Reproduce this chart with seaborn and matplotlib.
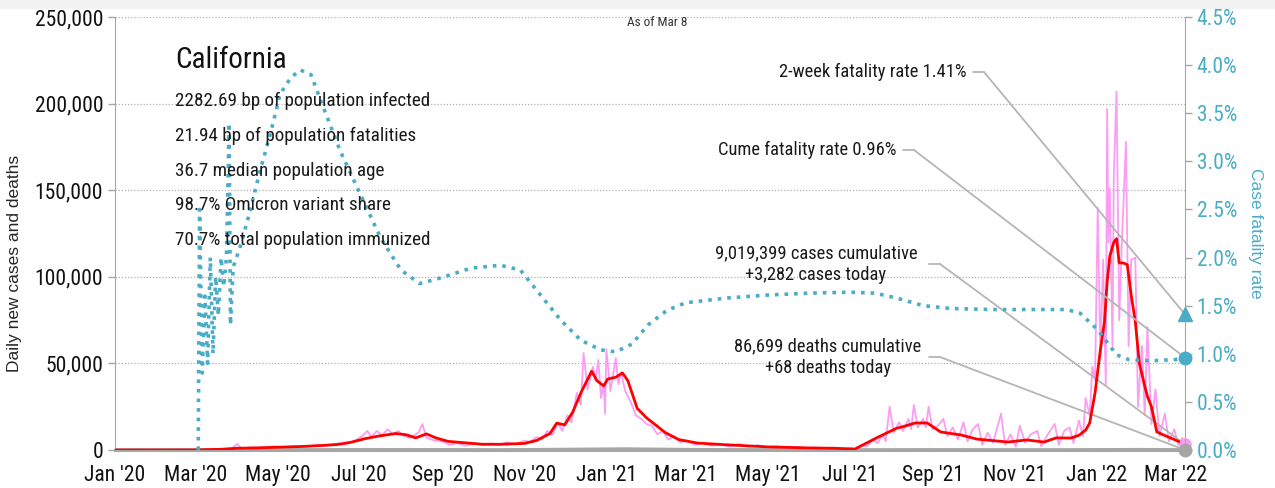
import matplotlib
matplotlib.use("Agg")
import matplotlib.pyplot as plt
import matplotlib.dates as mdates
from matplotlib import font_manager
from matplotlib.lines import Line2D
from matplotlib.patches import Rectangle
from matplotlib.ticker import FuncFormatter, MultipleLocator
import seaborn as sns
import pandas as pd

# 7-day average of new cases (thousands)
avg_dates = ["2020-01-01", "2020-03-01", "2020-03-20", "2020-04-01", "2020-04-15", "2020-05-01",
             "2020-05-15", "2020-06-01", "2020-06-15", "2020-06-25", "2020-07-05", "2020-07-15",
             "2020-07-28", "2020-08-05", "2020-08-12", "2020-08-20", "2020-08-27", "2020-09-05",
             "2020-09-20", "2020-10-01", "2020-10-15", "2020-11-01", "2020-11-10", "2020-11-20",
             "2020-11-25", "2020-12-01", "2020-12-07", "2020-12-13", "2020-12-21", "2020-12-25",
             "2020-12-30", "2021-01-02", "2021-01-08", "2021-01-13", "2021-01-17", "2021-01-24",
             "2021-01-31", "2021-02-14", "2021-02-24", "2021-03-10", "2021-04-01", "2021-05-01",
             "2021-06-01", "2021-06-20", "2021-07-05", "2021-07-21", "2021-08-05", "2021-08-10",
             "2021-08-19", "2021-08-28", "2021-09-07", "2021-09-22", "2021-10-04", "2021-10-27",
             "2021-11-10", "2021-11-23", "2021-12-02", "2021-12-13", "2021-12-19", "2021-12-24",
             "2021-12-27", "2021-12-31", "2022-01-04", "2022-01-07", "2022-01-09", "2022-01-11",
             "2022-01-14", "2022-01-16", "2022-01-18", "2022-01-21", "2022-01-24", "2022-01-27",
             "2022-01-30", "2022-02-02", "2022-02-06", "2022-02-08", "2022-02-11", "2022-02-15",
             "2022-02-19", "2022-02-27", "2022-03-08"]
avg_cases = [0, 0.05, 0.4, 1.0, 1.2, 1.6,
             1.9, 2.5, 3.2, 4.5, 6.5, 8.0,
             9.5, 8.8, 7.0, 9.3, 7.0, 5.0,
             4.0, 3.3, 3.3, 3.8, 5.5, 9.5,
             15.5, 14.5, 22, 33, 45.5, 40,
             37, 41, 42, 44.5, 40, 24,
             18.5, 10, 6, 4, 3, 1.8,
             1.2, 1.0, 0.5, 6.9, 12.5, 13.5,
             15.6, 15.6, 10.4, 8.7, 6.3, 4.6,
             5.8, 4.6, 7.0, 6.9, 8.5, 11.5,
             15.6, 33, 58, 74, 97, 112,
             120, 122, 108, 108, 107, 89,
             74, 50, 37, 31, 25, 10.5,
             9, 6.4, 3.3]

# daily new cases (thousands)
daily_dates = ["2020-01-01", "2020-02-28", "2020-03-10", "2020-03-20", "2020-03-28", "2020-04-01",
               "2020-04-04", "2020-04-12", "2020-04-20", "2020-04-28", "2020-05-06", "2020-05-14",
               "2020-05-22", "2020-05-30", "2020-06-07", "2020-06-15", "2020-06-21", "2020-06-28",
               "2020-07-03", "2020-07-07", "2020-07-10", "2020-07-14", "2020-07-18", "2020-07-22",
               "2020-07-26", "2020-07-30", "2020-08-03", "2020-08-08", "2020-08-14", "2020-08-17",
               "2020-08-20", "2020-08-26", "2020-09-01", "2020-09-06", "2020-09-12", "2020-09-18",
               "2020-09-24", "2020-10-01", "2020-10-07", "2020-10-13", "2020-10-19", "2020-10-25",
               "2020-11-01", "2020-11-05", "2020-11-10", "2020-11-14", "2020-11-18", "2020-11-22",
               "2020-11-26", "2020-11-29", "2020-12-03", "2020-12-06", "2020-12-10", "2020-12-13",
               "2020-12-15", "2020-12-18", "2020-12-22", "2020-12-24", "2020-12-26", "2020-12-28",
               "2020-12-30", "2020-12-31", "2021-01-01", "2021-01-04", "2021-01-08", "2021-01-10",
               "2021-01-12", "2021-01-15", "2021-01-19", "2021-01-23", "2021-01-27", "2021-01-31",
               "2021-02-04", "2021-02-08", "2021-02-12", "2021-02-16", "2021-02-20", "2021-02-25",
               "2021-03-02", "2021-03-08", "2021-03-14", "2021-03-20", "2021-03-27", "2021-04-03",
               "2021-04-10", "2021-04-17", "2021-04-24", "2021-05-01", "2021-05-08", "2021-05-15",
               "2021-05-22", "2021-05-29", "2021-06-05", "2021-06-12", "2021-06-19", "2021-06-26",
               "2021-07-03", "2021-07-06", "2021-07-10", "2021-07-14", "2021-07-18", "2021-07-22",
               "2021-07-26", "2021-07-28", "2021-07-31", "2021-08-03", "2021-08-07", "2021-08-10",
               "2021-08-14", "2021-08-16", "2021-08-18", "2021-08-21", "2021-08-25", "2021-08-27",
               "2021-08-29", "2021-09-01", "2021-09-05", "2021-09-09", "2021-09-12", "2021-09-16",
               "2021-09-20", "2021-09-24", "2021-09-27", "2021-10-01", "2021-10-05", "2021-10-08",
               "2021-10-12", "2021-10-16", "2021-10-22", "2021-10-25", "2021-10-29", "2021-11-02",
               "2021-11-05", "2021-11-09", "2021-11-13", "2021-11-18", "2021-11-21", "2021-11-25",
               "2021-12-01", "2021-12-04", "2021-12-08", "2021-12-12", "2021-12-15", "2021-12-19",
               "2021-12-22", "2021-12-24", "2021-12-27", "2021-12-29", "2021-12-31", "2022-01-02",
               "2022-01-04", "2022-01-06", "2022-01-08", "2022-01-09", "2022-01-10", "2022-01-11",
               "2022-01-13", "2022-01-14", "2022-01-16", "2022-01-18", "2022-01-20", "2022-01-23",
               "2022-01-25", "2022-01-27", "2022-01-30", "2022-02-01", "2022-02-04", "2022-02-06",
               "2022-02-08", "2022-02-11", "2022-02-14", "2022-02-17", "2022-02-21", "2022-02-24",
               "2022-02-28", "2022-03-03", "2022-03-06", "2022-03-08"]
daily_cases = [0, 0, 0.1, 0.5, 0.9, 3.5,
               1.0, 1.5, 1.3, 2.0, 1.6, 2.3,
               1.8, 2.8, 2.6, 3.8, 3.2, 5.5,
               8, 11, 7.5, 11, 8.5, 12,
               9, 11, 8, 7, 10, 15,
               7, 5.5, 5, 3, 4, 2.5,
               3.8, 3, 3.8, 3, 4.5, 3.2,
               5.5, 4.5, 7.5, 6, 11, 9,
               16, 11, 20, 16, 33, 26,
               56, 35, 48, 40, 52, 30,
               38, 21, 58, 34, 53, 38,
               45, 34, 28, 20, 18, 15,
               14, 9, 11, 6, 8, 4.5,
               5.5, 3, 4, 2.5, 3.2, 2,
               3.5, 1.8, 2.8, 1.5, 2.2, 1.2,
               1.8, 0.9, 1.4, 0.8, 1.3, 0.7,
               1.2, 0.1, 3, 2, 6, 4,
               9, 5, 25, 10, 16, 11,
               18, 12, 26, 13, 18, 13,
               25, 12, 14, 18, 8, 13,
               6, 16, 5, 12, 15, 3,
               10, 4, 21, 3, 9, 2,
               14, 4, 9, 11, 2, 8,
               15, 3, 11, 13, 4, 17,
               8, 30, 20, 48, 40, 140,
               55, 110, 37, 197, 120, 151,
               60, 160, 207, 75, 120, 178,
               60, 110, 111, 25, 60, 20,
               71, 15, 35, 8, 21, 5,
               12, 3, 7, 3.282]

# daily deaths (thousands)
death_dates = ["2020-01-01", "2020-03-15", "2020-04-15", "2020-07-15", "2020-08-15", "2020-10-15",
               "2021-01-15", "2021-03-15", "2021-06-15", "2021-09-01", "2021-12-01", "2022-02-01",
               "2022-03-08"]
deaths = [0, 0.01, 0.08, 0.12, 0.14, 0.06, 0.55, 0.15, 0.02, 0.1, 0.04, 0.2, 0.068]

# case fatality rate (%)
cfr_dates = ["2020-03-03", "2020-03-04", "2020-03-06", "2020-03-08", "2020-03-10", "2020-03-12",
             "2020-03-14", "2020-03-16", "2020-03-18", "2020-03-20", "2020-03-22", "2020-03-24",
             "2020-03-26", "2020-03-27", "2020-03-29", "2020-04-03", "2020-04-10", "2020-04-18",
             "2020-04-26", "2020-05-03", "2020-05-11", "2020-05-18", "2020-05-26", "2020-06-02",
             "2020-06-17", "2020-07-02", "2020-07-17", "2020-08-01", "2020-08-15", "2020-08-31",
             "2020-09-22", "2020-10-14", "2020-10-29", "2020-11-13", "2020-11-28", "2020-12-13",
             "2020-12-28", "2021-01-08", "2021-01-20", "2021-02-01", "2021-02-15", "2021-03-01",
             "2021-04-01", "2021-05-01", "2021-06-01", "2021-07-01", "2021-07-20", "2021-08-05",
             "2021-08-25", "2021-09-15", "2021-10-15", "2021-11-15", "2021-12-10", "2021-12-20",
             "2022-01-02", "2022-01-09", "2022-01-16", "2022-01-25", "2022-02-05", "2022-02-15",
             "2022-03-01", "2022-03-08"]
cfr = [0.0, 2.5, 0.8, 1.6, 0.9, 2.0,
       1.0, 1.8, 1.4, 2.0, 1.7, 2.0,
       3.4, 1.3, 1.9, 2.1, 2.45, 2.9,
       3.3, 3.7, 3.87, 3.95, 3.9, 3.64,
       3.1, 2.65, 2.2, 1.87, 1.73, 1.79,
       1.89, 1.92, 1.87, 1.61, 1.35, 1.14,
       1.04, 1.02, 1.1, 1.3, 1.45, 1.53,
       1.58, 1.61, 1.63, 1.64, 1.63, 1.58,
       1.5, 1.47, 1.46, 1.46, 1.46, 1.42,
       1.25, 1.12, 0.99, 0.94, 0.93, 0.93,
       0.94, 0.96]

two_week_cfr = 1.41
cume_cfr = 0.96
info_lines = ["2282.69 bp of population infected", "21.94 bp of population fatalities",
              "36.7 median population age", "98.7% Omicron variant share",
              "70.7% total population immunized"]

PINK = "#fb9df2"
RED = "#ff0000"
TEAL = "#4bacc6"
GREY = "#a6a6a6"

sns.set_style("white")
names = {f.name for f in font_manager.fontManager.ttflist}
narrow = next((n for n in ["Roboto Condensed", "Archivo Narrow", "PT Sans Narrow",
                           "Liberation Sans Narrow", "Barlow Condensed", "Open Sans Condensed"]
               if n in names), "DejaVu Sans")
regular = "Liberation Sans" if "Liberation Sans" in names else "DejaVu Sans"
plt.rcParams["font.family"] = [narrow, "DejaVu Sans"]

avg_df = pd.DataFrame({"date": pd.to_datetime(avg_dates), "cases": [v * 1000 for v in avg_cases]})
daily_df = pd.DataFrame({"date": pd.to_datetime(daily_dates), "cases": [v * 1000 for v in daily_cases]})
death_df = pd.DataFrame({"date": pd.to_datetime(death_dates), "deaths": [v * 1000 for v in deaths]})
cfr_df = pd.DataFrame({"date": pd.to_datetime(cfr_dates), "cfr": cfr})

fig = plt.figure(figsize=(12.75, 4.88), dpi=100)
fig.add_artist(Rectangle((0, 1 - 8 / 488), 1, 8 / 488, transform=fig.transFigure,
                         color="#f2f2f2", zorder=0))
ax = fig.add_axes([115 / 1275, 1 - 450 / 488, 1070 / 1275, 433 / 488])
ax2 = ax.twinx()

sns.lineplot(data=daily_df, x="date", y="cases", ax=ax, color=PINK, lw=1.3, zorder=3)
sns.lineplot(data=avg_df, x="date", y="cases", ax=ax, color=RED, lw=2, zorder=4)
sns.lineplot(data=death_df, x="date", y="deaths", ax=ax, color=GREY, lw=2.5, zorder=2)
sns.lineplot(data=cfr_df, x="date", y="cfr", ax=ax2, color=TEAL, lw=2.6, linestyle=":", zorder=5)

end = pd.Timestamp("2022-03-08")
ax.set_xlim(pd.Timestamp("2020-01-01"), end)
ax.set_ylim(0, 250000)
ax2.set_ylim(0, 4.5)

ax.plot([end], [daily_cases[-1] * 1000], "o", color=PINK, ms=8, clip_on=False, zorder=6)
ax.plot([end], [deaths[-1] * 1000], "o", color=GREY, ms=9, clip_on=False, zorder=6)
ax2.plot([end], [two_week_cfr], "^", color=TEAL, ms=10, clip_on=False, zorder=6)
ax2.plot([end], [cume_cfr], "o", color=TEAL, ms=9, clip_on=False, zorder=6)

ax.xaxis.set_major_locator(mdates.MonthLocator(bymonth=[1, 3, 5, 7, 9, 11]))
ax.xaxis.set_major_formatter(FuncFormatter(lambda v, p: mdates.num2date(v).strftime("%b '%y")))
ax.yaxis.set_major_locator(MultipleLocator(50000))
ax.yaxis.set_major_formatter(FuncFormatter(lambda v, p: f"{v:,.0f}"))
ax2.yaxis.set_major_locator(MultipleLocator(0.5))
ax2.yaxis.set_major_formatter(FuncFormatter(lambda v, p: f"{v:.1f}%"))

ax.grid(axis="y", color="#b0b0b0", linestyle=(0, (1, 1.5)), lw=0.9)
ax.set_axisbelow(True)
ax.set_xlabel("")
ax.set_ylabel("Daily new cases and deaths", fontsize=12.5, family=regular)
ax.yaxis.set_label_coords(-0.087, 0.43)
ax2.set_ylabel("Case fatality rate", fontsize=12.5, family=regular, color=TEAL,
               rotation=270, labelpad=18)

for a in (ax, ax2):
    for s in a.spines.values():
        s.set_visible(False)
ax.spines["left"].set_visible(True)
ax.spines["left"].set_color(GREY)
ax.spines["bottom"].set_visible(True)
ax.spines["bottom"].set_color(GREY)
ax.spines["bottom"].set_linewidth(2.2)
ax2.spines["right"].set_visible(True)
ax2.spines["right"].set_color(GREY)

ax.tick_params(axis="both", colors=GREY, labelcolor="#111111", labelsize=15.5, length=5, width=1)
ax.tick_params(axis="x", pad=6)
ax2.tick_params(axis="y", colors=GREY, labelcolor=TEAL, labelsize=15.5, length=5, width=1)

# headline block
fig.text(175 / 1275, 1 - 60 / 488, "California", fontsize=21, va="center", ha="left", color="#111111")
for i, line in enumerate(info_lines):
    fig.text(175 / 1275, 1 - (101 + 34.8 * i) / 488, line, fontsize=13.8, va="center", ha="left",
             color="#1a1a1a")
fig.text(657 / 1275, 1 - 22 / 488, "As of Mar 8", fontsize=9.5, ha="center", va="center", color="#333333")

# callouts: (axis, value, label, text x, text y, alignment, stub start)
callouts = [
    (ax2, two_week_cfr, f"2-week fatality rate {two_week_cfr:.2f}%", 967, 72, "right", 973),
    (ax2, cume_cfr, f"Cume fatality rate {cume_cfr:.2f}%", 897, 150, "right", 903),
    (ax, daily_cases[-1] * 1000, "9,019,399 cases cumulative\n+3,282 cases today", 816, 264, "center", 929),
    (ax, deaths[-1] * 1000, "86,699 deaths cumulative\n+68 deaths today", 828, 357, "center", 929),
]
for a, val, label, tx, ty, ha, x0 in callouts:
    fig.text(tx / 1275, 1 - ty / 488, label, fontsize=13.3, ha=ha, va="center", color="#1a1a1a",
             linespacing=1.3, multialignment="center")
    x1 = x0 + 11
    fig.add_artist(Line2D([x0 / 1275, x1 / 1275], [1 - ty / 488, 1 - ty / 488],
                          transform=fig.transFigure, color="#b5b5b5", lw=1.3))
    a.annotate("", xy=(end, val), xycoords="data", xytext=(x1, 488 - ty), textcoords="figure pixels",
               arrowprops=dict(arrowstyle="-", color="#b5b5b5", lw=1.3, shrinkA=0, shrinkB=0),
               annotation_clip=False)

fig.savefig("out.png", dpi=100)
